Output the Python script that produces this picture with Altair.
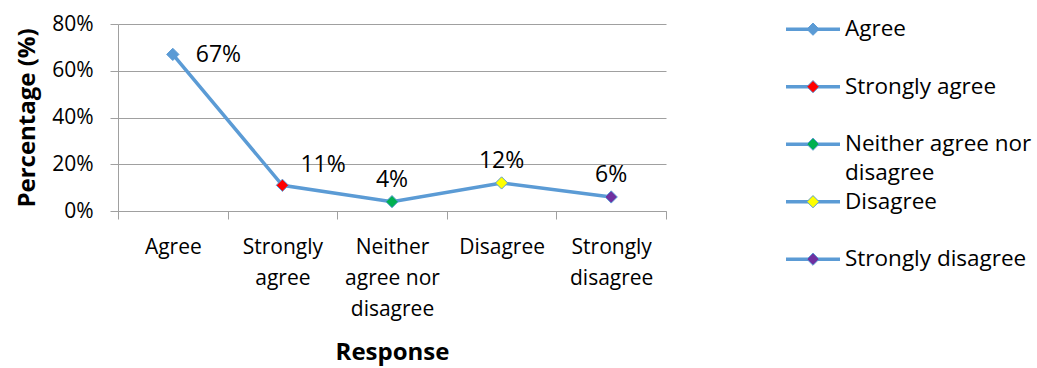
import altair as alt
import pandas as pd

categories = ["Agree", "Strongly agree", "Neither agree nor disagree", "Disagree", "Strongly disagree"]
values = [67, 11, 4, 12, 6]
marker_colors = ["#5B9BD5", "#FF0000", "#00B050", "#FFFF00", "#7030A0"]
axis_label_lines = [["Agree"], ["Strongly", "agree"], ["Neither", "agree nor", "disagree"], ["Disagree"], ["Strongly", "disagree"]]
legend_label_lines = [["Agree"], ["Strongly agree"], ["Neither agree nor", "disagree"], ["Disagree"], ["Strongly disagree"]]
y_ticks = [0, 20, 40, 60, 80]

FONT = "Open Sans"
LINE = "#5B9BD5"
GRID = "#A0A0A0"

df = pd.DataFrame({
    "category": categories,
    "value": [v / 100 for v in values],
    "label": [f"{v}%" for v in values],
})

def js_arr(lines):
    return "[" + ",".join("'" + s + "'" for s in lines) + "]"

expr = "datum.label"
for cat, lines in reversed(list(zip(categories, axis_label_lines))):
    expr = f"datum.label == '{cat}' ? {js_arr(lines)} : ({expr})"

W, H = 548, 187

base = alt.Chart(df).encode(
    x=alt.X(
        "category:N",
        sort=categories,
        scale=alt.Scale(paddingInner=0, paddingOuter=0),
        axis=alt.Axis(
            title="Response", labelAngle=0, tickBand="extent", labelExpr=expr,
            labelFontSize=21, labelLineHeight=31, labelPadding=17,
            tickSize=8, tickColor=GRID, domainColor=GRID, grid=False,
            titleFontSize=24, titleFontWeight="bold", titlePadding=21,
        ),
    ),
    y=alt.Y(
        "value:Q",
        scale=alt.Scale(domain=[0, 0.8], nice=False),
        axis=alt.Axis(
            title="Percentage (%)", format=".0%", values=[t / 100 for t in y_ticks],
            labelFontSize=21, labelPadding=17, tickSize=8, tickColor=GRID,
            domainColor=GRID, gridColor=GRID, grid=True,
            titleFontSize=24, titleFontWeight="bold", titlePadding=12,
        ),
    ),
)

line = base.mark_line(color=LINE, strokeWidth=3.5)
points = base.mark_point(shape="diamond", filled=True, size=150, stroke=LINE,
                         strokeWidth=1, opacity=1).encode(
    fill=alt.Fill("category:N", scale=alt.Scale(domain=categories, range=marker_colors), legend=None)
)
LFS = 23
lab_a = base.transform_filter(alt.datum.category == categories[0]).mark_text(
    align="left", baseline="middle", dx=23, dy=1, fontSize=LFS).encode(text="label:N")
lab_b = base.transform_filter(alt.datum.category == categories[1]).mark_text(
    align="left", baseline="middle", dx=18, dy=-20, fontSize=LFS).encode(text="label:N")
lab_c = base.transform_filter(
    (alt.datum.category != categories[0]) & (alt.datum.category != categories[1])
).mark_text(align="center", baseline="middle", dy=-22, fontSize=LFS).encode(text="label:N")

main = alt.layer(line, points, lab_a, lab_b, lab_c).properties(width=W, height=H)

leg = pd.DataFrame({
    "category": categories,
    "idx": list(range(len(categories))),
    "text": ["\n".join(l) for l in legend_label_lines],
})
ly = alt.Y("idx:Q", scale=alt.Scale(domain=[-0.09, 3.162], reverse=True, nice=False, zero=False), axis=None)
lx_scale = alt.Scale(domain=[0, 1], nice=False, zero=False)
lbase = alt.Chart(leg).encode(y=ly)
lrule = lbase.mark_rule(color=LINE, strokeWidth=3.5, clip=False).encode(
    x=alt.XDatum(0, scale=lx_scale, axis=None), x2=alt.X2Datum(1))
lpts = lbase.mark_point(shape="diamond", filled=True, size=150, stroke=LINE, strokeWidth=1,
                        opacity=1, clip=False).encode(
    x=alt.XDatum(0.5, scale=lx_scale, axis=None),
    fill=alt.Fill("category:N", scale=alt.Scale(domain=categories, range=marker_colors), legend=None))
ltxt = lbase.mark_text(align="left", baseline="middle", dx=5, fontSize=22.5, lineBreak="\n",
                       lineHeight=29, clip=False).encode(
    x=alt.XDatum(1, scale=lx_scale, axis=None), text="text:N")
legend = alt.layer(lrule, lpts, ltxt).properties(width=54, height=H)

chart = alt.hconcat(main, legend, spacing=117).resolve_scale(fill="shared").properties(
    padding={"left": 15, "top": 13, "right": 5, "bottom": 5}
).configure(font=FONT).configure_view(stroke=None).configure_text(font=FONT, color="#000000").configure_axis(
    labelColor="#000000", titleColor="#000000", labelFont=FONT, titleFont=FONT
)

chart.save("out.html", embed_options={"renderer": "svg", "actions": False})
